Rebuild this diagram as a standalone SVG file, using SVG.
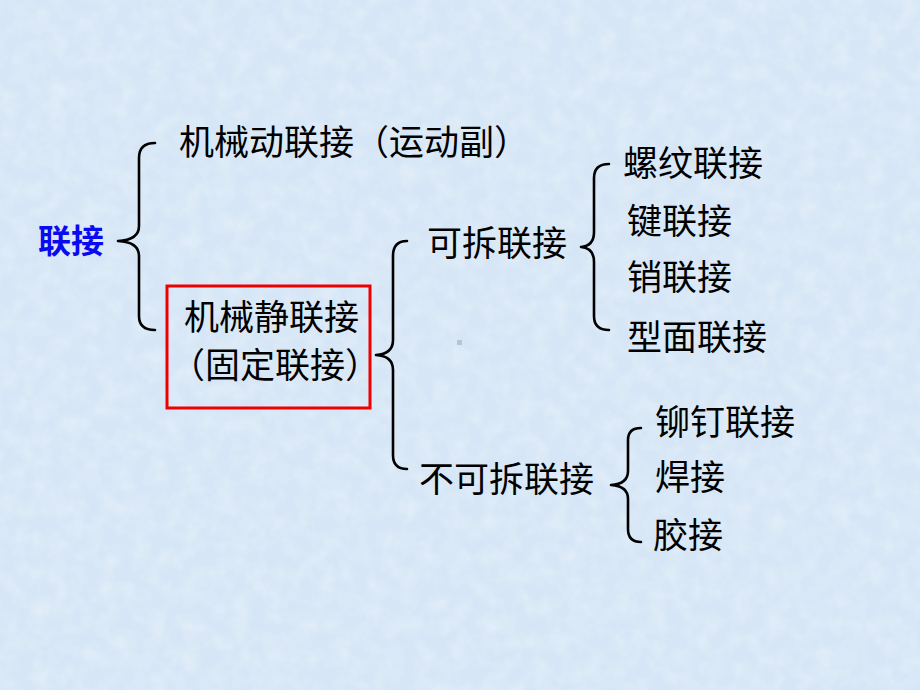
<svg xmlns="http://www.w3.org/2000/svg" width="920" height="690" viewBox="0 0 920 690">
<defs>
<style>
.t{font-family:"Liberation Serif","Noto Sans CJK SC",serif;font-size:35px;fill:#000}
.b{fill:none;stroke:#000;stroke-width:2.6;stroke-linecap:round;stroke-linejoin:round}
</style>
<filter id="tex" x="0" y="0" width="100%" height="100%">
<feTurbulence type="fractalNoise" baseFrequency="0.06" numOctaves="3" seed="3"/>
<feColorMatrix type="matrix" values="0 0 0 0 1  0 0 0 0 1  0 0 0 0 1  0 0 0 -1.6 1.05"/>
</filter>
</defs>
<rect width="920" height="690" fill="#d6e6f6"/>
<rect width="920" height="690" filter="url(#tex)" opacity="0.3"/>
<g id="connectors">
<path class="b" d="M155,143 Q139,143 139,158 L139,226 Q139,240 118,241 Q139,242 139,256 L139,316 Q139,330 155,330"/>
<path class="b" d="M407,241 Q393,241 393,256 L393,340 Q393,354 376,355 Q393,356 393,370 L393,455 Q393,469 407,469"/>
<path class="b" d="M609,164 Q594,164 594,178 L594,232 Q594,246 581,247 Q594,248 594,262 L594,316 Q594,330 609,330"/>
<path class="b" d="M641,428 Q628,428 628,440 L628,471 Q628,484 611,485 Q628,486 628,499 L628,529 Q628,542 641,542"/>
</g>
<g id="root"><text x="38" y="253" font-family="'Liberation Serif','Noto Sans CJK SC',serif" font-size="33" font-weight="bold" fill="#0a0af0">联接</text></g>
<g id="dynamic"><text class="t" x="179" y="155">机械动联接（运动副）</text></g>
<g id="static">
<rect x="167" y="286" width="203" height="122" fill="none" stroke="#ee0000" stroke-width="3"/>
<text class="t" x="184" y="330">机械静联接</text>
<text class="t" x="170" y="378">（固定联接）</text>
</g>
<g id="detachable"><text class="t" x="427" y="256">可拆联接</text></g>
<g id="nondetachable"><text class="t" x="419" y="492">不可拆联接</text></g>
<g id="thread"><text class="t" x="623" y="176">螺纹联接</text></g>
<g id="key"><text class="t" x="627" y="234">键联接</text></g>
<g id="pin"><text class="t" x="627" y="290">销联接</text></g>
<g id="profile"><text class="t" x="627" y="350">型面联接</text></g>
<g id="rivet"><text class="t" x="655" y="435">铆钉联接</text></g>
<g id="weld"><text class="t" x="655" y="490">焊接</text></g>
<g id="glue"><text class="t" x="653" y="548">胶接</text></g>
<rect x="457" y="340" width="5" height="5" fill="#b8c4d0"/>
</svg>
